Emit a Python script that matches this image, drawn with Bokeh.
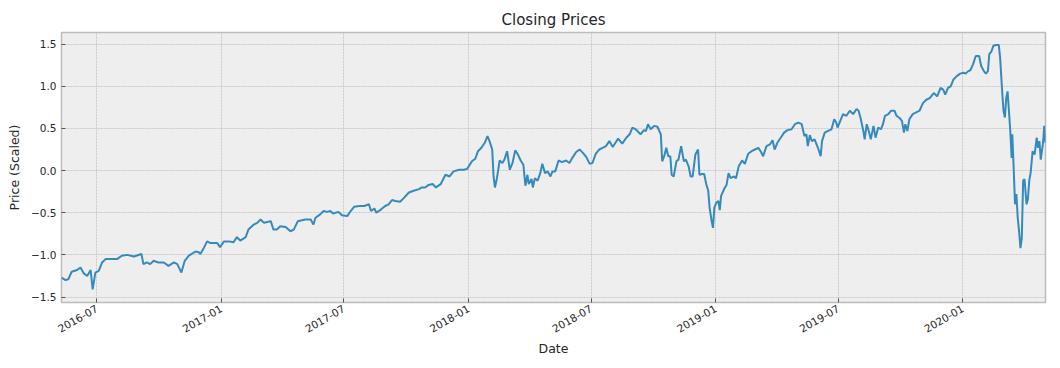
import math
import pandas as pd
from bokeh.plotting import figure
from bokeh.models import Range1d, FixedTicker, DatetimeTickFormatter, ColumnDataSource
from bokeh.embed import file_html
from bokeh.resources import INLINE

dates = [
    "2016-05-10", "2016-05-16", "2016-05-20", "2016-05-25", "2016-06-02", "2016-06-07",
    "2016-06-12", "2016-06-17", "2016-06-22", "2016-06-25", "2016-06-29", "2016-07-04",
    "2016-07-09", "2016-07-14", "2016-07-21", "2016-07-31", "2016-08-07", "2016-08-15",
    "2016-08-25", "2016-09-05", "2016-09-08", "2016-09-13", "2016-09-18", "2016-09-23",
    "2016-09-30", "2016-10-08", "2016-10-15", "2016-10-23", "2016-10-28", "2016-11-03",
    "2016-11-08", "2016-11-14", "2016-11-24", "2016-11-29", "2016-12-01", "2016-12-06",
    "2016-12-11", "2016-12-16", "2016-12-21", "2016-12-26", "2016-12-30", "2017-01-05",
    "2017-01-12", "2017-01-19", "2017-01-24", "2017-01-29", "2017-02-06", "2017-02-10",
    "2017-02-18", "2017-02-23", "2017-02-28", "2017-03-05", "2017-03-10", "2017-03-15",
    "2017-03-19", "2017-03-24", "2017-03-29", "2017-04-06", "2017-04-13", "2017-04-18",
    "2017-04-24", "2017-04-30", "2017-05-05", "2017-05-13", "2017-05-17", "2017-05-20",
    "2017-05-27", "2017-06-01", "2017-06-06", "2017-06-11", "2017-06-15", "2017-06-23",
    "2017-06-28", "2017-07-06", "2017-07-11", "2017-07-16", "2017-07-24", "2017-07-31",
    "2017-08-07", "2017-08-10", "2017-08-15", "2017-08-18", "2017-08-25", "2017-08-31",
    "2017-09-05", "2017-09-10", "2017-09-15", "2017-09-22", "2017-09-27", "2017-10-05",
    "2017-10-12", "2017-10-20", "2017-10-24", "2017-10-29", "2017-11-03", "2017-11-09",
    "2017-11-14", "2017-11-21", "2017-11-28", "2017-12-04", "2017-12-10", "2017-12-18",
    "2017-12-25", "2017-12-30", "2018-01-06", "2018-01-11", "2018-01-15", "2018-01-20",
    "2018-01-25", "2018-01-29", "2018-02-01", "2018-02-05", "2018-02-07", "2018-02-09",
    "2018-02-12", "2018-02-16", "2018-02-20", "2018-02-23", "2018-02-27", "2018-03-03",
    "2018-03-07", "2018-03-11", "2018-03-15", "2018-03-19", "2018-03-23", "2018-03-26",
    "2018-03-29", "2018-03-31", "2018-04-04", "2018-04-06", "2018-04-09", "2018-04-13",
    "2018-04-17", "2018-04-20", "2018-04-24", "2018-04-28", "2018-05-02", "2018-05-05",
    "2018-05-09", "2018-05-14", "2018-05-19", "2018-05-25", "2018-05-30", "2018-06-04",
    "2018-06-09", "2018-06-14", "2018-06-19", "2018-06-24", "2018-06-29", "2018-07-03",
    "2018-07-08", "2018-07-13", "2018-07-18", "2018-07-23", "2018-07-28", "2018-08-02",
    "2018-08-10", "2018-08-16", "2018-08-22", "2018-08-27", "2018-08-31", "2018-09-05",
    "2018-09-12", "2018-09-17", "2018-09-20", "2018-09-23", "2018-09-27", "2018-10-02",
    "2018-10-07", "2018-10-12", "2018-10-14", "2018-10-17", "2018-10-20", "2018-10-23",
    "2018-10-26", "2018-10-28", "2018-10-31", "2018-11-04", "2018-11-07", "2018-11-11",
    "2018-11-15", "2018-11-18", "2018-11-22", "2018-11-25", "2018-11-28", "2018-12-02",
    "2018-12-06", "2018-12-08", "2018-12-12", "2018-12-15", "2018-12-18", "2018-12-21",
    "2018-12-23", "2018-12-26", "2018-12-28", "2018-12-30", "2019-01-02", "2019-01-05",
    "2019-01-07", "2019-01-09", "2019-01-14", "2019-01-17", "2019-01-20", "2019-01-23",
    "2019-01-28", "2019-01-31", "2019-02-04", "2019-02-09", "2019-02-13", "2019-02-18",
    "2019-02-23", "2019-02-28", "2019-03-05", "2019-03-09", "2019-03-12", "2019-03-17",
    "2019-03-22", "2019-03-26", "2019-03-29", "2019-04-02", "2019-04-07", "2019-04-12",
    "2019-04-17", "2019-04-23", "2019-04-28", "2019-05-03", "2019-05-08", "2019-05-12",
    "2019-05-15", "2019-05-17", "2019-05-20", "2019-05-23", "2019-05-27", "2019-06-01",
    "2019-06-05", "2019-06-07", "2019-06-11", "2019-06-16", "2019-06-21", "2019-06-25",
    "2019-06-28", "2019-06-30", "2019-07-04", "2019-07-08", "2019-07-13", "2019-07-18",
    "2019-07-23", "2019-07-28", "2019-07-31", "2019-08-03", "2019-08-07", "2019-08-09",
    "2019-08-12", "2019-08-15", "2019-08-18", "2019-08-22", "2019-08-25", "2019-08-29",
    "2019-09-02", "2019-09-05", "2019-09-08", "2019-09-13", "2019-09-17", "2019-09-22",
    "2019-09-25", "2019-09-30", "2019-10-03", "2019-10-06", "2019-10-08", "2019-10-11",
    "2019-10-14", "2019-10-19", "2019-10-24", "2019-10-29", "2019-11-03", "2019-11-08",
    "2019-11-13", "2019-11-19", "2019-11-24", "2019-11-29", "2019-12-03", "2019-12-06",
    "2019-12-10", "2019-12-14", "2019-12-18", "2019-12-23", "2019-12-28", "2020-01-02",
    "2020-01-05", "2020-01-09", "2020-01-12", "2020-01-16", "2020-01-20", "2020-01-25",
    "2020-01-28", "2020-02-01", "2020-02-04", "2020-02-07", "2020-02-09", "2020-02-12",
    "2020-02-15", "2020-02-19", "2020-02-23", "2020-02-25", "2020-02-28", "2020-03-01",
    "2020-03-03", "2020-03-05", "2020-03-07", "2020-03-09", "2020-03-11", "2020-03-13",
    "2020-03-14", "2020-03-16", "2020-03-18", "2020-03-20", "2020-03-22", "2020-03-24",
    "2020-03-26", "2020-03-28", "2020-03-30", "2020-04-01", "2020-04-04", "2020-04-06",
    "2020-04-08", "2020-04-10", "2020-04-13", "2020-04-16", "2020-04-19", "2020-04-21",
    "2020-04-23", "2020-04-25", "2020-04-28", "2020-04-29", "2020-04-30", "2020-05-02",
]

prices = [
    -1.27, -1.30, -1.29, -1.20, -1.18, -1.15,
    -1.22, -1.25, -1.18, -1.41, -1.21, -1.19,
    -1.09, -1.05, -1.05, -1.05, -1.01, -1.00,
    -1.02, -0.99, -1.11, -1.09, -1.11, -1.07,
    -1.09, -1.09, -1.13, -1.09, -1.11, -1.21,
    -1.07, -1.01, -0.96, -0.97, -0.99, -0.92,
    -0.84, -0.86, -0.86, -0.86, -0.91, -0.84,
    -0.84, -0.85, -0.79, -0.83, -0.79, -0.70,
    -0.64, -0.62, -0.58, -0.62, -0.61, -0.60,
    -0.70, -0.70, -0.66, -0.67, -0.72, -0.70,
    -0.60, -0.59, -0.58, -0.58, -0.64, -0.56,
    -0.52, -0.48, -0.49, -0.48, -0.51, -0.49,
    -0.53, -0.54, -0.48, -0.43, -0.42, -0.42,
    -0.40, -0.48, -0.45, -0.50, -0.46, -0.42,
    -0.40, -0.35, -0.36, -0.37, -0.33, -0.26,
    -0.24, -0.22, -0.20, -0.20, -0.17, -0.16,
    -0.20, -0.16, -0.05, -0.07, -0.01, 0.01,
    0.01, 0.02, 0.11, 0.14, 0.23, 0.27,
    0.33, 0.41, 0.35, 0.25, -0.07, -0.20,
    -0.09, 0.12, 0.09, 0.13, 0.23, 0.01,
    0.09, 0.24, 0.19, 0.12, 0.07, -0.18,
    -0.05, -0.16, -0.10, -0.20, -0.09, -0.12,
    -0.03, 0.08, -0.03, -0.01, -0.07, -0.01,
    -0.01, 0.12, 0.10, 0.12, 0.09, 0.16,
    0.22, 0.25, 0.21, 0.16, 0.08, 0.09,
    0.20, 0.25, 0.27, 0.29, 0.35, 0.28,
    0.38, 0.32, 0.39, 0.43, 0.51, 0.49,
    0.43, 0.48, 0.47, 0.55, 0.49, 0.53,
    0.52, 0.43, 0.11, 0.17, 0.27, 0.17,
    0.17, -0.05, -0.07, 0.11, 0.13, 0.29,
    0.11, 0.13, 0.05, -0.07, -0.07, 0.19,
    0.25, -0.05, -0.04, -0.04, -0.16, -0.24,
    -0.44, -0.60, -0.68, -0.44, -0.38, -0.36,
    -0.47, -0.30, -0.21, -0.17, -0.03, -0.09,
    -0.07, -0.09, 0.05, 0.12, 0.08, 0.20,
    0.23, 0.25, 0.27, 0.22, 0.17, 0.29,
    0.31, 0.36, 0.25, 0.33, 0.39, 0.45,
    0.48, 0.49, 0.55, 0.57, 0.55, 0.41,
    0.43, 0.29, 0.42, 0.35, 0.37, 0.27,
    0.17, 0.35, 0.45, 0.47, 0.49, 0.61,
    0.57, 0.51, 0.59, 0.67, 0.65, 0.71,
    0.67, 0.73, 0.71, 0.62, 0.47, 0.37,
    0.55, 0.47, 0.37, 0.53, 0.39, 0.51,
    0.49, 0.55, 0.65, 0.67, 0.71, 0.71,
    0.65, 0.62, 0.59, 0.45, 0.55, 0.47,
    0.61, 0.67, 0.69, 0.71, 0.80, 0.84,
    0.86, 0.92, 0.88, 0.98, 0.96, 0.90,
    0.98, 1.00, 1.08, 1.12, 1.15, 1.16,
    1.15, 1.18, 1.19, 1.26, 1.36, 1.36,
    1.24, 1.18, 1.15, 1.18, 1.38, 1.41,
    1.48, 1.49, 1.49, 1.34, 0.94, 0.71,
    0.63, 0.86, 0.94, 0.71, 0.47, 0.15,
    0.43, 0.03, -0.40, -0.28, -0.56, -0.72,
    -0.92, -0.80, -0.12, -0.10, -0.40, -0.34,
    -0.12, -0.03, 0.23, 0.19, 0.39, 0.27,
    0.35, 0.13, 0.31, 0.39, 0.53, 0.33,
]

x_tick_labels = ["2016-07", "2017-01", "2017-07", "2018-01", "2018-07",
                 "2019-01", "2019-07", "2020-01"]
y_ticks = [-1.5, -1.0, -0.5, 0.0, 0.5, 1.0, 1.5]
y_tick_labels = ["\u22121.5", "\u22121.0", "\u22120.5", "0.0", "0.5", "1.0", "1.5"]

dt = pd.to_datetime(dates)
src = ColumnDataSource(dict(date=dt, price=prices))
x_ticks = [pd.Timestamp(s + "-01").timestamp() * 1000 for s in x_tick_labels]

FONT = "DejaVu Sans"
TXT = "#262626"

p = figure(
    width=1047, height=362,
    x_axis_type="datetime",
    x_range=Range1d(dt[0], dt[-1]),
    y_range=Range1d(-1.565, 1.638),
    output_backend="svg", toolbar_location=None,
    title="Closing Prices",
    min_border_left=61, min_border_right=2, min_border_top=32, min_border_bottom=60,
    background_fill_color="#eeeeee", border_fill_color="white",
)

p.line("date", "price", source=src, line_color="#348ABD", line_width=2)

p.title.text_font = FONT
p.title.text_font_size = "15px"
p.title.text_font_style = "normal"
p.title.text_color = TXT
p.title.align = "center"
p.title.standoff = 7

p.outline_line_color = "#bcbcbc"
p.outline_line_width = 1.5

p.grid.grid_line_color = "#b2b2b2"
p.grid.grid_line_dash = "2 1"
p.grid.grid_line_width = 0.6

p.xaxis.ticker = FixedTicker(ticks=x_ticks)
p.xaxis.formatter = DatetimeTickFormatter(
    milliseconds="%Y-%m", seconds="%Y-%m", minsec="%Y-%m", minutes="%Y-%m",
    hourmin="%Y-%m", hours="%Y-%m", days="%Y-%m", months="%Y-%m", years="%Y-%m")
p.xaxis.major_label_orientation = math.pi / 6
p.yaxis.ticker = FixedTicker(ticks=y_ticks)
p.yaxis.major_label_overrides = {t: l for t, l in zip(y_ticks, y_tick_labels)}

p.xaxis.axis_label = "Date"
p.yaxis.axis_label = "Price (Scaled)"

for ax in p.axis:
    ax.axis_line_color = None
    ax.major_tick_in = 4
    ax.major_tick_out = 0
    ax.major_tick_line_color = "#555555"
    ax.minor_tick_line_color = None
    ax.major_label_text_font = FONT
    ax.major_label_text_font_size = "10.5px"
    ax.major_label_text_color = TXT
    ax.major_label_standoff = 5
    ax.axis_label_text_font = FONT
    ax.axis_label_text_font_size = "12.5px"
    ax.axis_label_text_font_style = "normal"
    ax.axis_label_text_color = TXT

p.xaxis.axis_label_standoff = 2
p.yaxis.axis_label_standoff = 6

open("out.html", "w").write(file_html(p, INLINE))
